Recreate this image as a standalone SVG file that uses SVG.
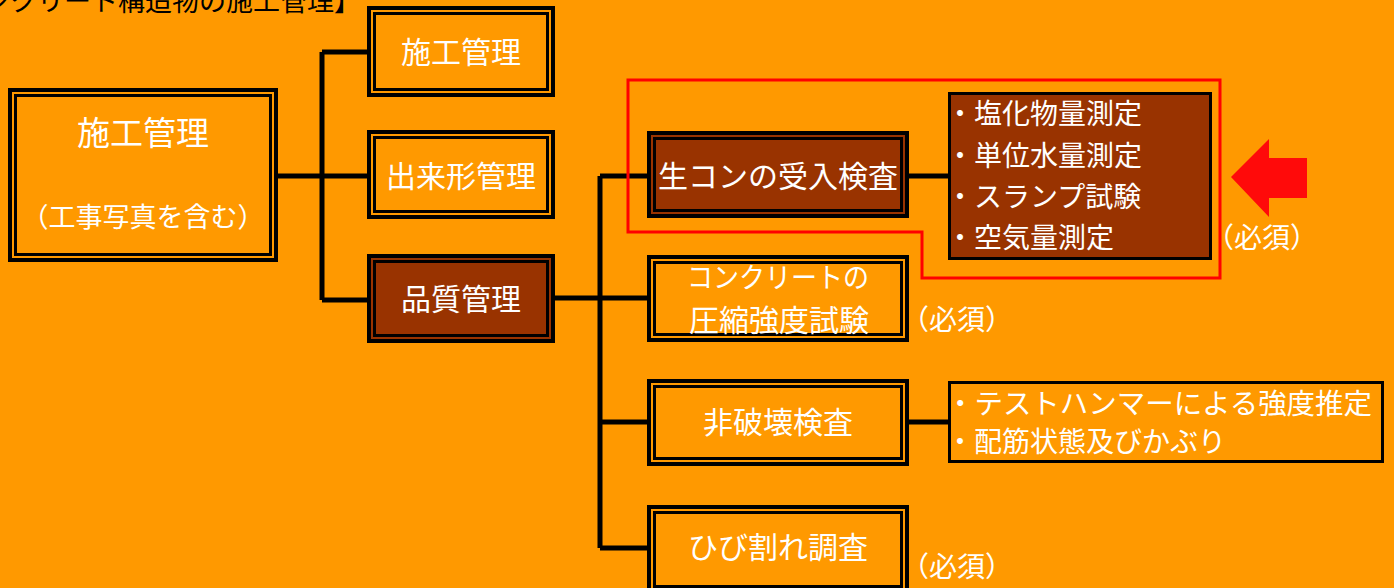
<svg xmlns="http://www.w3.org/2000/svg" width="1394" height="588" viewBox="0 0 1394 588">
<style>
.o{fill:none;stroke:#000;stroke-width:4}
.i{fill:none;stroke:#000;stroke-width:3}
.bg{fill:#FF9900}
.br{fill:#993300}
.t{font-family:"Noto Sans CJK JP","Noto Sans",sans-serif;fill:#fff}
.c{text-anchor:middle}
.ln{stroke:#000;stroke-width:5;fill:none}
</style>
<rect width="1394" height="588" fill="#FF9900"/>
<text x="361" y="11" class="t" style="fill:#000;text-anchor:end" font-size="27">【コンクリート構造物の施工管理】</text>
<g id="connectors">
<path class="ln" d="M278 176H322M322 52V300M322 52H367M322 176H367M322 300H367"/>
<path class="ln" d="M555 298H600M600 176V548M600 176H647M600 298H647M600 422H647M600 548H647"/>
<path class="ln" d="M909 176H948M909 422H948"/>
</g>
<g id="main">
<rect x="10" y="90" width="266" height="170" class="o bg"/>
<rect x="15.5" y="95.5" width="255" height="159" class="i"/>
<text x="143" y="145" class="t c" font-size="33">施工管理</text>
<text x="143" y="227" class="t c" font-size="27">（工事写真を含む）</text>
</g>
<g id="sekou">
<rect x="369" y="8" width="184" height="87" class="o bg"/>
<rect x="374.5" y="13.5" width="173" height="76" class="i"/>
<text x="461" y="63" class="t c" font-size="30">施工管理</text>
</g>
<g id="dekigata">
<rect x="369" y="132" width="184" height="85" class="o bg"/>
<rect x="374.5" y="137.5" width="173" height="74" class="i"/>
<text x="461" y="187" class="t c" font-size="30">出来形管理</text>
</g>
<g id="hinshitsu">
<rect x="369" y="256" width="184" height="85" class="o br"/>
<rect x="374.5" y="261.5" width="173" height="74" class="i"/>
<text x="461" y="310" class="t c" font-size="30">品質管理</text>
</g>
<g id="ukeire">
<rect x="649" y="133" width="258" height="83" class="o br"/>
<rect x="654.5" y="138.5" width="247" height="72" class="i"/>
<text x="778" y="187" class="t c" font-size="30">生コンの受入検査</text>
</g>
<g id="ukeire-items">
<rect x="949.5" y="93.5" width="261" height="165" class="i br"/>
<text x="946" y="124" class="t" font-size="28">・塩化物量測定</text>
<text x="946" y="166" class="t" font-size="28">・単位水量測定</text>
<text x="946" y="207" class="t" font-size="28">・スランプ試験</text>
<text x="946" y="248" class="t" font-size="28">・空気量測定</text>
</g>
<g id="highlight">
<path d="M628 80H1220V278H922V232H628Z" fill="none" stroke="#FF0000" stroke-width="3"/>
<path d="M1231 177L1269 139V158H1307V198H1269V217Z" fill="#FF0A0A"/>
<text x="1262" y="248" class="t c" font-size="28">（必須）</text>
</g>
<g id="assyuku">
<rect x="649" y="257" width="258" height="83" class="o bg"/>
<rect x="654.5" y="262.5" width="247" height="72" class="i"/>
<text x="778" y="288" class="t c" font-size="28" textLength="182" lengthAdjust="spacingAndGlyphs">コンクリートの</text>
<text x="779" y="331" class="t c" font-size="30">圧縮強度試験</text>
<text x="957" y="330" class="t c" font-size="28">（必須）</text>
</g>
<g id="hihakai">
<rect x="649" y="381" width="258" height="83" class="o bg"/>
<rect x="654.5" y="386.5" width="247" height="72" class="i"/>
<text x="778" y="433" class="t c" font-size="30">非破壊検査</text>
</g>
<g id="hihakai-items">
<rect x="949.5" y="382.5" width="433" height="79" class="i bg"/>
<text x="946" y="414" class="t" font-size="28" textLength="426" lengthAdjust="spacingAndGlyphs">・テストハンマーによる強度推定</text>
<text x="946" y="452" class="t" font-size="28">・配筋状態及びかぶり</text>
</g>
<g id="hibiware">
<rect x="649" y="507" width="258" height="85" class="o bg"/>
<rect x="654.5" y="512.5" width="247" height="74" class="i"/>
<text x="778" y="558" class="t c" font-size="30">ひび割れ調査</text>
<text x="957" y="577" class="t c" font-size="28">（必須）</text>
</g>
</svg>
